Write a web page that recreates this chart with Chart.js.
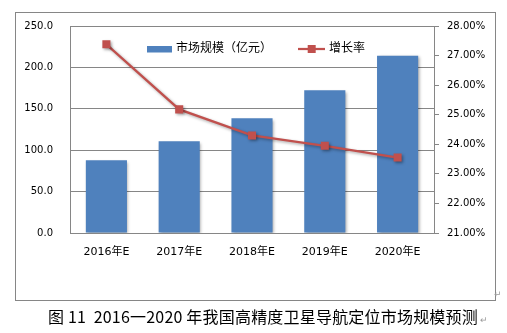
<!DOCTYPE html>
<html>
<head>
<meta charset="utf-8">
<script src="https://cdn.jsdelivr.net/npm/chart.js@4/dist/chart.umd.min.js"></script>
<style>
  html, body { margin: 0; padding: 0; background: #fff; }
  #wrap { position: relative; width: 507px; height: 333px; overflow: hidden; }
  #chart { position: absolute; left: 0; top: 0; }
  #caption {
    position: absolute; left: 48px; top: 306px; white-space: pre;
    font-family: "Noto Sans CJK SC", sans-serif; font-size: 16px; line-height: 20px; color: #000;
    letter-spacing: 0.2px;
  }
  .mark { color: #9a9a9a; font-size: 9px; font-family: "DejaVu Sans", sans-serif; position: absolute; }
</style>
</head>
<body>
<div id="wrap">
  <canvas id="chart" width="507" height="333"></canvas>
  <span class="mark" style="left:494px; top:289px;">↵</span>
  <div id="caption"></div>
</div>
<script>
// Forecast: high-precision satellite navigation & positioning market, China
const categories = ['2016年E', '2017年E', '2018年E', '2019年E', '2020年E'];
const marketSize = [87.9, 110.9, 138.7, 172.5, 214.0];      // 亿元
const growthRate = [27.38, 25.18, 24.30, 23.95, 23.55];     // %
const seriesNames = ['市场规模（亿元）', '增长率'];
const leftTicks = { min: 0, max: 250, step: 50 };
const rightTicks = { min: 21, max: 28, step: 1 };
const captionText = '图 11  2016一2020 年我国高精度卫星导航定位市场规模预测';

const BLUE = '#4F81BD';
const RED = '#C0504D';
const GRID = '#868686';
const TICK_FONT = { family: '"DejaVu Sans", "Noto Sans CJK SC", sans-serif', size: 10 };

const cap = document.getElementById('caption');
cap.textContent = captionText;
const capMark = document.createElement('span');
capMark.textContent = '↵';
capMark.style.cssText = 'color:#9a9a9a;font-size:9px;margin-left:2px;';
cap.appendChild(capMark);

// soft drop shadow under bars and the line, Office style
const shadowPlugin = {
  id: 'shadow',
  beforeDatasetDraw(chart) {
    const ctx = chart.ctx;
    ctx.save();
    ctx.shadowColor = 'rgba(0,0,0,0.35)';
    ctx.shadowBlur = 3;
    ctx.shadowOffsetX = 1.5;
    ctx.shadowOffsetY = 1.5;
  },
  afterDatasetDraw(chart) {
    chart.ctx.restore();
  }
};

// outer frame
const framePlugin = {
  id: 'frame',
  beforeDraw(chart) {
    const ctx = chart.ctx;
    ctx.save();
    ctx.strokeStyle = GRID;
    ctx.lineWidth = 1;
    ctx.strokeRect(15.5, 12.5, 480, 288);
    ctx.restore();
  }
};

// legend drawn inside the plot area
const legendPlugin = {
  id: 'innerLegend',
  afterDraw(chart) {
    const ctx = chart.ctx;
    const ds = chart.data.datasets;
    ctx.save();
    ctx.font = '12px "Noto Sans CJK SC", sans-serif';
    ctx.textBaseline = 'middle';
    // bar swatch
    ctx.fillStyle = ds[0].backgroundColor;
    ctx.fillRect(147, 46, 25, 6.5);
    ctx.fillStyle = '#000';
    ctx.fillText(ds[0].label, 176, 47);
    // line swatch with marker
    ctx.strokeStyle = ds[1].borderColor;
    ctx.lineWidth = 2.25;
    ctx.beginPath();
    ctx.moveTo(298, 49);
    ctx.lineTo(325, 49);
    ctx.stroke();
    ctx.fillStyle = ds[1].borderColor;
    ctx.fillRect(307.7, 45, 8, 8);
    ctx.fillStyle = '#000';
    ctx.fillText(ds[1].label, 329, 47);
    ctx.restore();
  }
};

new Chart(document.getElementById('chart'), {
  data: {
    labels: categories,
    datasets: [
      {
        type: 'bar',
        label: seriesNames[0],
        data: marketSize,
        backgroundColor: BLUE,
        yAxisID: 'y',
        order: 1,
        categoryPercentage: 1,
        barPercentage: 0.565
      },
      {
        type: 'line',
        label: seriesNames[1],
        data: growthRate,
        borderColor: RED,
        backgroundColor: RED,
        borderWidth: 2.25,
        pointStyle: 'rect',
        pointRadius: 5.7,
        pointBackgroundColor: RED,
        pointBorderColor: RED,
        pointBorderWidth: 0,
        tension: 0,
        yAxisID: 'y1',
        order: 0
      }
    ]
  },
  plugins: [framePlugin, shadowPlugin, legendPlugin],
  options: {
    responsive: false,
    animation: false,
    devicePixelRatio: 1,
    layout: { padding: { top: 26, left: 0, right: 0, bottom: 0 } },
    plugins: { legend: { display: false }, tooltip: { enabled: false }, title: { display: false } },
    scales: {
      x: {
        offset: true,
        grid: { display: false, drawTicks: false },
        border: { display: true, color: GRID, width: 1 },
        ticks: { color: '#000', padding: 13, font: { family: TICK_FONT.family, size: 11 }, maxRotation: 0 },
        afterFit(scale) { scale.height = 100; }
      },
      y: {
        position: 'left',
        min: leftTicks.min,
        max: leftTicks.max,
        ticks: {
          stepSize: leftTicks.step,
          color: '#000',
          padding: 17,
          font: TICK_FONT,
          callback: v => Number(v).toFixed(1)
        },
        grid: { color: GRID, lineWidth: 1, drawTicks: false },
        border: { display: true, color: GRID, width: 1 },
        afterFit(scale) { scale.width = 70; }
      },
      y1: {
        position: 'right',
        min: rightTicks.min,
        max: rightTicks.max,
        ticks: {
          stepSize: rightTicks.step,
          color: '#000',
          padding: 8,
          font: TICK_FONT,
          callback: v => Number(v).toFixed(2) + '%'
        },
        grid: { drawOnChartArea: false, drawTicks: true, tickLength: 5, color: GRID },
        border: { display: true, color: GRID, width: 1 },
        afterFit(scale) { scale.width = 73; }
      }
    }
  }
});
</script>
</body>
</html>
